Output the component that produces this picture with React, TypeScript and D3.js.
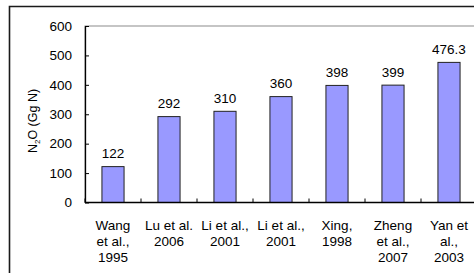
import React, { useEffect, useRef } from 'react';
import * as d3 from 'd3';

// Studies (x-axis labels, one entry per line) and N2O estimates
const studyLabels: string[][] = [
  ['Wang', 'et al.,', '1995'],
  ['Lu et al.', '2006'],
  ['Li et al.,', '2001'],
  ['Li et al.,', '2001'],
  ['Xing,', '1998'],
  ['Zheng', 'et al.,', '2007'],
  ['Yan et', 'al.,', '2003'],
];
const emissions: number[] = [122, 292, 310, 360, 398, 399, 476.3];
const yTicks: number[] = [0, 100, 200, 300, 400, 500, 600];

const FONT = 'Arial, "Liberation Sans", sans-serif';
const LABEL_SIZE = 13.5;

const App: React.FC = () => {
  const chartRef = useRef<SVGGElement>(null);

  useEffect(() => {
    if (!chartRef.current) return;
    document.body.style.margin = '0';

    const svg = d3.select(chartRef.current);
    svg.selectAll('*').remove();

    // Plot area (right side runs past the picture edge)
    const left = 85;
    const right = 477;
    const top = 26;
    const bottom = 202.5;

    const ids = emissions.map((_, i) => String(i));

    const x = d3.scaleBand<string>()
      .domain(ids)
      .range([left, right])
      .padding(0);

    const y = d3.scaleLinear()
      .domain([0, 600])
      .range([bottom, top]);

    const barWidth = x.bandwidth() * 0.395;

    // Outer chart frame, cut off on the right and bottom
    svg.append('path')
      .attr('d', 'M9.5,273 L9.5,6.5 L474,6.5')
      .attr('fill', 'none')
      .attr('stroke', '#1a1a1a')
      .attr('stroke-width', 1.6);

    // Plot area border (grey)
    svg.append('rect')
      .attr('x', left)
      .attr('y', top)
      .attr('width', right - left)
      .attr('height', bottom - top)
      .attr('fill', 'none')
      .attr('stroke', '#8c8c8c')
      .attr('stroke-width', 1);

    // Bars
    svg.append('g')
      .selectAll('rect')
      .data(emissions)
      .join('rect')
      .attr('x', (_, i) => (x(String(i)) as number) + x.bandwidth() / 2 - barWidth / 2)
      .attr('y', d => y(d))
      .attr('width', barWidth)
      .attr('height', d => bottom - y(d))
      .attr('fill', '#9999ff')
      .attr('stroke', '#222')
      .attr('stroke-width', 1);

    // Value labels
    svg.append('g')
      .selectAll('text')
      .data(emissions)
      .join('text')
      .attr('x', (_, i) => (x(String(i)) as number) + x.bandwidth() / 2)
      .attr('y', d => y(d) - 8.5)
      .attr('text-anchor', 'middle')
      .attr('font-family', FONT)
      .attr('font-size', LABEL_SIZE)
      .attr('fill', '#000')
      .text(d => String(d));

    // Y axis (ticks point inward)
    const yAxis = svg.append('g')
      .attr('transform', `translate(${left},0)`)
      .call(
        d3.axisLeft(y)
          .tickValues(yTicks)
          .tickSizeInner(-4)
          .tickSizeOuter(0)
          .tickPadding(13)
          .tickFormat(d3.format('d'))
      );
    yAxis.select('.domain').attr('stroke', '#000').attr('stroke-width', 1.3);
    yAxis.selectAll('line').attr('stroke', '#000');
    yAxis.selectAll('text')
      .attr('font-family', FONT)
      .attr('font-size', LABEL_SIZE)
      .attr('fill', '#000');

    // X axis: tick marks at category boundaries, pointing up
    const boundaries = ids.map(id => x(id) as number).concat([right]);
    svg.append('line')
      .attr('x1', left)
      .attr('x2', right)
      .attr('y1', bottom)
      .attr('y2', bottom)
      .attr('stroke', '#000')
      .attr('stroke-width', 1.3);
    svg.append('g')
      .selectAll('line')
      .data(boundaries)
      .join('line')
      .attr('x1', d => d)
      .attr('x2', d => d)
      .attr('y1', bottom)
      .attr('y2', bottom - 4)
      .attr('stroke', '#000');

    // Category labels
    const catLabels = svg.append('g')
      .selectAll('text')
      .data(studyLabels)
      .join('text')
      .attr('x', (_, i) => (x(String(i)) as number) + x.bandwidth() / 2)
      .attr('y', 230)
      .attr('text-anchor', 'middle')
      .attr('font-family', FONT)
      .attr('font-size', LABEL_SIZE)
      .attr('fill', '#000');
    catLabels.each(function (lines, i) {
      const cx = (x(String(i)) as number) + x.bandwidth() / 2;
      d3.select(this)
        .selectAll('tspan')
        .data(lines)
        .join('tspan')
        .attr('x', cx)
        .attr('dy', (_, j) => (j === 0 ? 0 : 16))
        .text(d => d);
    });

    // Y axis title
    const title = svg.append('text')
      .attr('transform', 'translate(36.5,121) rotate(-90)')
      .attr('text-anchor', 'middle')
      .attr('font-family', FONT)
      .attr('font-size', 12.5)
      .attr('fill', '#000');
    title.append('tspan').text('N');
    title.append('tspan').attr('font-size', 8).attr('dy', 3).text('2');
    title.append('tspan').attr('dy', -3).text('O (Gg N)');
  }, []);

  return (
    <div style={{ position: 'absolute', left: 0, top: 0, width: 474, height: 273, overflow: 'hidden' }}>
      <svg width={474} height={273} style={{ display: 'block' }}>
        <rect x={0} y={0} width={474} height={273} fill="white" />
        <g ref={chartRef} />
      </svg>
    </div>
  );
};

export default App;
